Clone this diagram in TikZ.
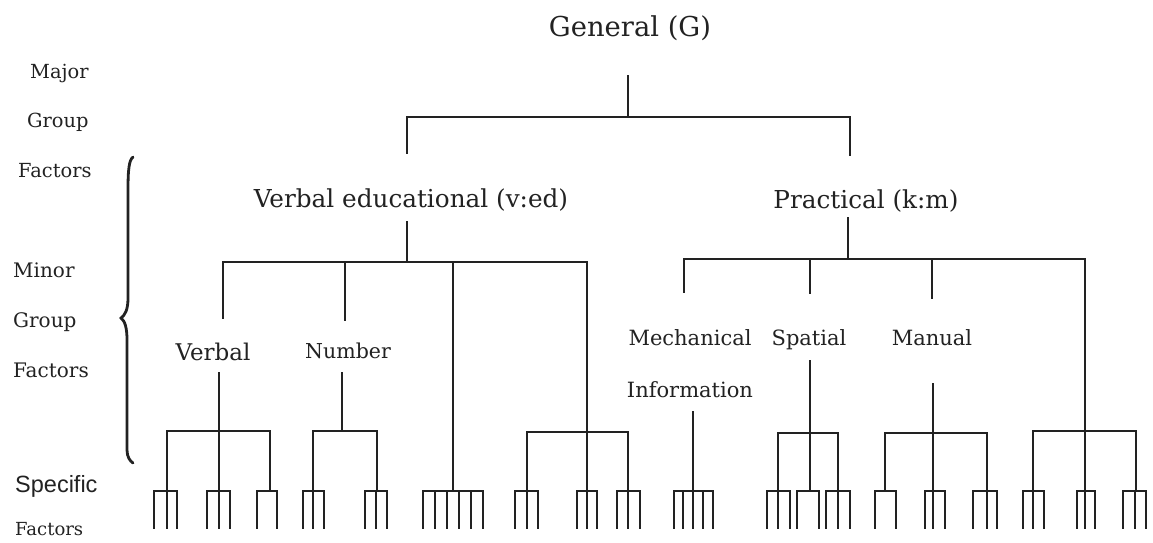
\documentclass[tikz,border=0pt]{standalone}
\usepackage{fontspec}
\setmainfont{DejaVu Serif}
\newfontfamily\sansf{Liberation Sans}
\definecolor{ink}{HTML}{222222}
\newcommand\fs[1]{\fontsize{#1}{#1}\selectfont}
% fork: #1 branch x, #2 branch top y, #3 left prong, #4 right prong, #5 prong list
\newcommand\myfork[5]{%
  \coordinate (bt#1) at (#1,#2);
  \coordinate (bb#1) at (#1,491);
  \coordinate (fl#1) at (#3,491);
  \coordinate (fr#1) at (#4,491);
  \draw[ln] (bt#1) -- (bb#1);
  \draw[ln] (fl#1) -- (fr#1);
  \foreach \p in {#5} {\coordinate (pt\p) at (\p,491); \coordinate (pb\p) at (\p,528); \draw[ln] (pt\p) -- (pb\p);}
}
\begin{document}
\begin{tikzpicture}[x=1pt,y=-1pt,
  lab/.style={inner sep=0pt,anchor=base,text=ink},
  labw/.style={inner sep=0pt,anchor=base west,text=ink},
  ln/.style={draw=ink,line width=2.7pt,line cap=rect}]
\useasboundingbox[fill=white] (0,0) rectangle (1153,543);

% ---------- labels ----------
\node[lab,font=\fs{27.4}] (G) at (630,37) {General (G)};
\node[lab,font=\fs{24.7}] (VE) at (411,207) {Verbal educational (v:ed)};
\node[lab,font=\fs{24.7}] (PR) at (866,208) {Practical (k:m)};
\node[lab,font=\fs{23}] (VB) at (213,360) {Verbal};
\node[lab,font=\fs{20.5}] (NB) at (348,358) {Number};
\node[lab,font=\fs{21}] (ME) at (690,345) {Mechanical};
\node[lab,font=\fs{21}] (IN) at (690,397) {Information};
\node[lab,font=\fs{21}] (SP) at (809,345) {Spatial};
\node[lab,font=\fs{21}] (MA) at (932,345) {Manual};

\node[labw,font=\fs{19.4}] (L1) at (30,78) {Major};
\node[labw,font=\fs{19.4}] (L2) at (27,127) {Group};
\node[labw,font=\fs{19.4}] (L3) at (18,177) {Factors};
\node[labw,font=\fs{20}] (L4) at (13,277) {Minor};
\node[labw,font=\fs{20}] (L5) at (13,327) {Group};
\node[labw,font=\fs{20}] (L6) at (13,377) {Factors};
\node[labw,font=\sansf\fs{23.5}] (L7) at (15,492) {Specific};
\node[labw,font=\fs{18}] (L8) at (15,535) {Factors};

% ---------- brace ----------
\draw[ink,line width=2.8pt,line cap=round] (133,157) .. controls (129,160) and (128,170) .. (128,190) -- (128,298) .. controls (128,310) and (125,315) .. (121,318) .. controls (125,321) and (127,328) .. (127,340) -- (127,450) .. controls (127,457) and (130,461) .. (133,463);

% ---------- top level ----------
\coordinate (Gt) at (628,76);
\coordinate (Gb) at (628,117);
\coordinate (Ml) at (407,117);
\coordinate (Mr) at (850,117);
\coordinate (Mlb) at (407,153);
\coordinate (Mrb) at (850,155);
\draw[ln] (Gt) -- (Gb);
\draw[ln] (Ml) -- (Mr);
\draw[ln] (Ml) -- (Mlb);
\draw[ln] (Mr) -- (Mrb);

% ---------- verbal educational ----------
\coordinate (VEt) at (407,222);
\coordinate (VEb) at (407,262);
\coordinate (VEl) at (223,262);
\coordinate (VEr) at (587,262);
\coordinate (VBt) at (223,318);
\coordinate (NBt0) at (345,262);
\coordinate (NBt) at (345,320);
\draw[ln] (VEt) -- (VEb);
\draw[ln] (VEl) -- (VEr);
\draw[ln] (VEl) -- (VBt);
\draw[ln] (NBt0) -- (NBt);

% ---------- practical ----------
\coordinate (PRt) at (848,218);
\coordinate (PRb) at (848,259);
\coordinate (PRl) at (684,259);
\coordinate (PRr) at (1085,259);
\coordinate (MEt) at (684,292);
\coordinate (SPt0) at (810,259);
\coordinate (SPt) at (810,293);
\coordinate (MAt0) at (932,259);
\coordinate (MAt) at (932,298);
\draw[ln] (PRt) -- (PRb);
\draw[ln] (PRl) -- (PRr);
\draw[ln] (PRl) -- (MEt);
\draw[ln] (SPt0) -- (SPt);
\draw[ln] (MAt0) -- (MAt);

% ---------- verbal group ----------
\coordinate (VBs) at (219,373);
\coordinate (VBg) at (219,431);
\coordinate (VBgl) at (167,431);
\coordinate (VBgr) at (270,431);
\draw[ln] (VBs) -- (VBg);
\draw[ln] (VBgl) -- (VBgr);
\myfork{167}{431}{154}{177}{154,167,177}
\myfork{219}{431}{207}{230}{207,219,230}
\myfork{270}{431}{257}{277}{257,277}

% ---------- number group ----------
\coordinate (NBs) at (342,373);
\coordinate (NBg) at (342,431);
\coordinate (NBgl) at (313,431);
\coordinate (NBgr) at (377,431);
\draw[ln] (NBs) -- (NBg);
\draw[ln] (NBgl) -- (NBgr);
\myfork{313}{431}{303}{324}{303,313,324}
\myfork{377}{431}{365}{387}{365,376,387}

% ---------- single line at 453 ----------
\myfork{453}{262}{423}{483}{423,435,447,459,471,483}

% ---------- group at 587 ----------
\coordinate (G4c) at (587,432);
\coordinate (G4l) at (527,432);
\coordinate (G4r) at (628,432);
\draw[ln] (VEr) -- (G4c);
\draw[ln] (G4l) -- (G4r);
\myfork{527}{432}{515}{538}{515,527,538}
\myfork{587}{432}{577}{597}{577,587,597}
\myfork{628}{432}{617}{640}{617,628,640}

% ---------- mechanical information ----------
\myfork{693}{412}{674}{713}{674,683,693,703,713}

% ---------- spatial group ----------
\coordinate (SPs) at (810,361);
\coordinate (SPg) at (810,433);
\coordinate (SPgl) at (778,433);
\coordinate (SPgr) at (838,433);
\draw[ln] (SPs) -- (SPg);
\draw[ln] (SPgl) -- (SPgr);
\myfork{778}{433}{767}{790}{767,778,790}
\myfork{810}{433}{797}{819}{797,819}
\myfork{838}{433}{826}{850}{826,838,850}

% ---------- manual group ----------
\coordinate (MAs) at (933,384);
\coordinate (MAg) at (933,433);
\coordinate (MAgl) at (885,433);
\coordinate (MAgr) at (987,433);
\draw[ln] (MAs) -- (MAg);
\draw[ln] (MAgl) -- (MAgr);
\myfork{885}{433}{875}{896}{875,896}
\myfork{933}{433}{925}{945}{925,933,945}
\myfork{987}{433}{973}{997}{973,987,997}

% ---------- last group ----------
\coordinate (LGg) at (1085,431);
\coordinate (LGl) at (1033,431);
\coordinate (LGr) at (1136,431);
\draw[ln] (PRr) -- (LGg);
\draw[ln] (LGl) -- (LGr);
\myfork{1033}{431}{1023}{1044}{1023,1033,1044}
\myfork{1085}{431}{1077}{1095}{1077,1085,1095}
\myfork{1136}{431}{1123}{1146}{1123,1135,1146}
\end{tikzpicture}
\end{document}
